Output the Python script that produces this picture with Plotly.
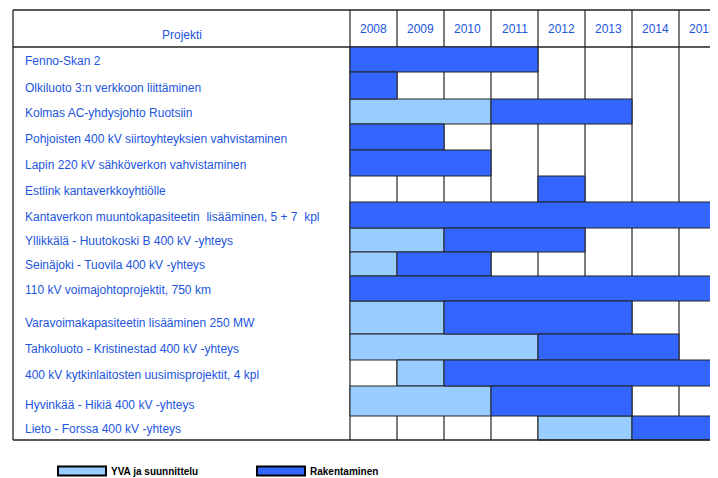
import plotly.graph_objects as go

projects = [
    "Fenno-Skan 2",
    "Olkiluoto 3:n verkkoon liittäminen",
    "Kolmas AC-yhdysjohto Ruotsiin",
    "Pohjoisten 400 kV siirtoyhteyksien vahvistaminen",
    "Lapin 220 kV sähköverkon vahvistaminen",
    "Estlink kantaverkkoyhtiölle",
    "Kantaverkon muuntokapasiteetin  lisääminen, 5 + 7  kpl",
    "Yllikkälä - Huutokoski B 400 kV -yhteys",
    "Seinäjoki - Tuovila 400 kV -yhteys",
    "110 kV voimajohtoprojektit, 750 km",
    "Varavoimakapasiteetin lisääminen 250 MW",
    "Tahkoluoto - Kristinestad 400 kV -yhteys",
    "400 kV kytkinlaitosten uusimisprojektit, 4 kpl",
    "Hyvinkää - Hikiä 400 kV -yhteys",
    "Lieto - Forssa 400 kV -yhteys",
]
years = [2008, 2009, 2010, 2011, 2012, 2013, 2014, 2015]

# YVA ja suunnittelu (start year, end year), None = no phase
yva = [None, None, (2008, 2011), None, None, None, None, (2008, 2010),
       (2008, 2009), None, (2008, 2010), (2008, 2012), (2009, 2010),
       (2008, 2011), (2012, 2014)]
# Rakentaminen
rak = [(2008, 2012), (2008, 2009), (2011, 2014), (2008, 2010), (2008, 2011),
       (2012, 2013), (2008, 2016), (2010, 2013), (2009, 2011), (2008, 2016),
       (2010, 2014), (2012, 2015), (2010, 2016), (2011, 2014), (2014, 2016)]

legend_names = ["YVA ja suunnittelu", "Rakentaminen"]

C_YVA = "#99CCFF"
C_RAK = "#3366FF"
TXT = "#2255DD"
LINE = "#222222"
FONT = "Liberation Sans, Arial, sans-serif"

# layout in page pixels (the html body adds an 8px margin)
OFF = 8
W, H = 718, 478 - OFF
COL_PX = 47.0          # width of one year column
HEAD_TOP = 10.0
BODY_TOP = 47.0
TABLE_LEFT = 13.0
YEAR0_PX = 350.0
# row heights of the table (spreadsheet rows are not all equal)
row_px = [25, 27, 25, 26, 26, 26, 26, 24, 24, 25, 33, 26, 26, 30, 24]

row_bot = []
acc = BODY_TOP
for h in row_px:
    acc += h
    row_bot.append(acc)
row_mid = [b - h / 2 for b, h in zip(row_bot, row_px)]
BODY_BOT = row_bot[-1]

x0 = years[0] - (YEAR0_PX - OFF) / COL_PX
x1 = x0 + W / COL_PX


def px_x(p):
    return x0 + (p - OFF) / COL_PX


fig = go.Figure()

for name, data, color in [(legend_names[0], yva, C_YVA), (legend_names[1], rak, C_RAK)]:
    ys, bases, lens, ws = [], [], [], []
    for i, seg in enumerate(data):
        if seg is None:
            continue
        ys.append(row_mid[i])
        ws.append(row_px[i])
        bases.append(seg[0])
        lens.append(seg[1] - seg[0])
    fig.add_trace(go.Bar(
        y=ys, x=lens, base=bases, orientation="h", width=ws, name=name,
        marker=dict(color=color, line=dict(color=LINE, width=1)),
        showlegend=False, hoverinfo="skip",
    ))

shapes = []
# year column lines
for yr in years:
    shapes.append(dict(type="line", x0=yr, x1=yr, y0=HEAD_TOP, y1=BODY_BOT,
                       line=dict(color=LINE, width=1.2), layer="below"))
# header bottom
shapes.append(dict(type="line", x0=px_x(TABLE_LEFT), x1=x1, y0=BODY_TOP, y1=BODY_TOP,
                   line=dict(color=LINE, width=1.3), layer="below"))
# outer frame
for yy in (HEAD_TOP, BODY_BOT):
    shapes.append(dict(type="line", x0=px_x(TABLE_LEFT), x1=x1, y0=yy, y1=yy,
                       line=dict(color=LINE, width=1.3)))
shapes.append(dict(type="line", x0=px_x(TABLE_LEFT), x1=px_x(TABLE_LEFT), y0=HEAD_TOP, y1=BODY_BOT,
                   line=dict(color=LINE, width=1.3)))

annotations = []
annotations.append(dict(x=(px_x(TABLE_LEFT) + years[0]) / 2, y=35, text="Projekti",
                        showarrow=False, xanchor="center", yanchor="middle",
                        font=dict(family=FONT, size=12, color=TXT)))
for yr in years:
    annotations.append(dict(x=yr + 0.5, y=28.5, text=str(yr), showarrow=False,
                            xanchor="center", yanchor="middle",
                            font=dict(family=FONT, size=12, color=TXT)))
for i, p in enumerate(projects):
    annotations.append(dict(x=px_x(23), y=row_bot[i] - 11, text=p, showarrow=False,
                            xanchor="left", yanchor="middle",
                            font=dict(family=FONT, size=12, color=TXT)))

# custom legend
for (lx, name, color) in [(58, legend_names[0], C_YVA), (257, legend_names[1], C_RAK)]:
    shapes.append(dict(type="rect", x0=px_x(lx), x1=px_x(lx + 48), y0=466.5, y1=475.5,
                       fillcolor=color, line=dict(color="#000000", width=2)))
    annotations.append(dict(x=px_x(lx + 51), y=471, text="<b>" + name + "</b>", showarrow=False,
                            xanchor="left", yanchor="middle",
                            font=dict(family=FONT, size=10, color="#000000")))

fig.update_layout(
    width=W, height=H,
    margin=dict(l=0, r=0, t=0, b=0),
    paper_bgcolor="white", plot_bgcolor="white",
    barmode="overlay",
    shapes=shapes, annotations=annotations,
    xaxis=dict(range=[x0, x1], visible=False, fixedrange=True),
    yaxis=dict(range=[OFF + H, OFF], visible=False, fixedrange=True),
)

fig.write_html("out.html")
